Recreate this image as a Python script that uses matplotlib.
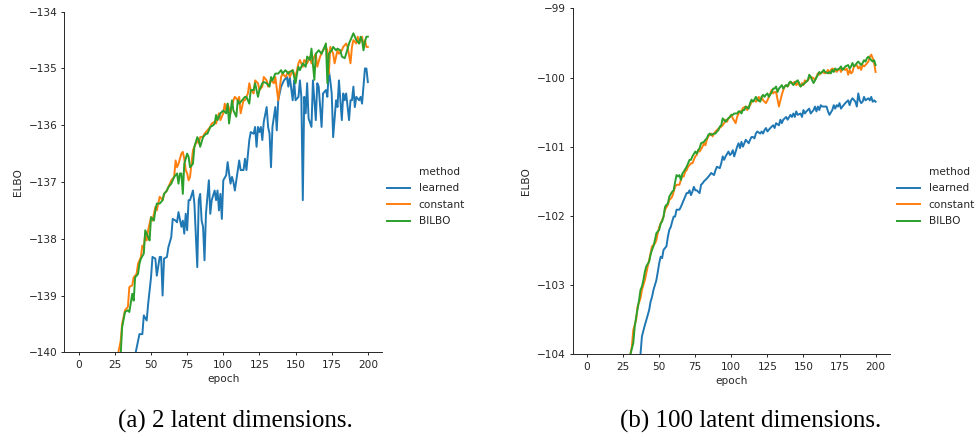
import matplotlib
matplotlib.use("Agg")
import matplotlib.pyplot as plt
from matplotlib.lines import Line2D

# ---------------- data: panel (a) 2 latent dimensions ----------------
a_learned_ep = [0, 10, 20, 30, 36, 39, 42, 44, 45, 47, 48, 49, 50, 51, 53, 54, 56, 57, 58, 59, 61, 62, 64, 65, 67, 68, 69, 71, 72, 73, 74, 75, 76, 77, 79, 80, 82, 83, 84, 85, 86, 87, 88, 90, 91, 92, 94, 95, 96, 97, 98, 99, 100, 102, 103, 104, 105, 106, 107, 108, 110, 111, 112, 114, 115, 116, 118, 119, 121, 122, 123, 124, 125, 126, 127, 128, 130, 131, 132, 133, 134, 136, 137, 138, 140, 142, 144, 145, 146, 148, 149, 150, 152, 153, 154, 155, 156, 157, 158, 159, 161, 162, 163, 164, 165, 166, 168, 169, 171, 172, 173, 174, 175, 176, 178, 179, 180, 181, 182, 183, 184, 185, 187, 188, 189, 190, 191, 192, 194, 195, 196, 197, 198, 199, 200]
a_learned = [-170, -155, -147, -142.5, -140.7, -140.05, -139.68, -139.68, -139.35, -139.44, -139.15, -138.91, -138.68, -138.32, -138.35, -138.65, -138.32, -138.32, -139.0, -138.35, -138.32, -138.15, -137.97, -137.65, -137.68, -137.71, -137.53, -137.79, -137.68, -137.91, -137.56, -137.85, -137.32, -137.32, -137.15, -137.38, -138.5, -137.32, -137.21, -137.68, -137.79, -138.38, -137.56, -136.97, -137.56, -137.32, -137.15, -137.32, -137.15, -137.5, -137.21, -137.65, -136.97, -136.88, -136.65, -136.85, -137.03, -136.91, -137.0, -137.15, -136.79, -136.62, -136.79, -136.79, -136.59, -136.79, -136.26, -136.12, -136.15, -136.03, -136.38, -136.03, -136.12, -136.03, -136.26, -135.94, -135.68, -136.03, -136.15, -136.74, -136.03, -135.68, -136.09, -135.56, -135.32, -135.21, -135.15, -135.32, -135.15, -135.56, -135.21, -135.56, -135.5, -135.21, -135.5, -137.32, -135.5, -135.79, -135.26, -135.88, -136.03, -135.21, -135.56, -135.91, -135.26, -135.32, -136.03, -135.44, -135.38, -135.5, -135.03, -135.21, -135.44, -136.21, -135.56, -135.68, -135.21, -135.56, -135.91, -135.44, -135.56, -135.44, -135.91, -135.56, -135.56, -135.32, -135.68, -135.5, -135.56, -135.5, -135.62, -135.32, -135.0, -135.0, -135.24]

a_constant_ep = [0, 10, 20, 25, 27, 29, 30, 32, 34, 35, 37, 38, 40, 41, 43, 44, 45, 46, 47, 48, 50, 51, 52, 53, 54, 56, 58, 59, 61, 62, 64, 66, 67, 68, 69, 71, 72, 73, 74, 75, 76, 77, 79, 80, 82, 83, 84, 86, 87, 89, 91, 92, 94, 95, 97, 98, 100, 101, 102, 103, 105, 107, 108, 110, 111, 112, 114, 115, 117, 118, 119, 121, 122, 124, 125, 127, 128, 130, 131, 133, 135, 136, 138, 140, 141, 143, 145, 146, 148, 150, 151, 152, 153, 155, 156, 158, 160, 161, 163, 164, 165, 167, 169, 171, 172, 173, 174, 176, 177, 179, 180, 182, 183, 185, 186, 188, 189, 190, 192, 193, 194, 196, 197, 198, 199, 200]
a_constant = [-170, -155, -145, -141.2, -140.05, -139.8, -139.5, -139.26, -139.2, -138.85, -138.82, -138.68, -138.62, -138.44, -138.32, -138.12, -138.15, -137.91, -138.03, -137.85, -137.62, -137.68, -137.56, -137.44, -137.5, -137.26, -137.32, -137.21, -137.15, -137.09, -136.97, -136.91, -136.62, -136.74, -136.68, -136.5, -136.47, -136.59, -136.79, -136.85, -136.97, -136.91, -136.44, -136.38, -136.26, -136.32, -136.21, -136.2, -136.15, -136.09, -136.03, -135.97, -135.94, -135.97, -135.79, -135.91, -135.79, -135.62, -135.74, -135.62, -135.79, -135.56, -135.5, -135.56, -135.5, -135.79, -135.56, -135.56, -135.44, -135.26, -135.38, -135.44, -135.21, -135.26, -135.38, -135.32, -135.15, -135.21, -135.32, -135.21, -135.26, -135.15, -135.56, -135.15, -135.09, -135.15, -135.06, -135.15, -135.03, -135.15, -135.03, -134.91, -134.85, -134.97, -134.85, -134.91, -134.79, -134.91, -134.79, -134.74, -134.97, -134.79, -134.68, -134.62, -134.68, -135.1, -134.62, -134.74, -134.91, -134.68, -134.74, -134.68, -134.62, -134.56, -134.62, -134.91, -134.62, -134.5, -134.56, -134.44, -134.56, -134.44, -134.62, -134.5, -134.62, -134.62]

a_bilbo_ep = [0, 10, 20, 26, 29, 30, 32, 34, 35, 37, 38, 39, 41, 42, 43, 45, 46, 48, 49, 50, 52, 53, 54, 56, 58, 59, 61, 62, 64, 65, 66, 68, 69, 70, 71, 72, 73, 75, 76, 77, 79, 80, 82, 83, 84, 86, 88, 89, 91, 93, 94, 95, 96, 98, 100, 102, 103, 104, 106, 107, 109, 110, 111, 113, 115, 116, 118, 119, 121, 122, 124, 125, 127, 128, 130, 132, 133, 134, 136, 138, 140, 141, 143, 145, 146, 148, 150, 151, 152, 153, 155, 157, 158, 160, 161, 163, 164, 166, 168, 169, 171, 172, 173, 175, 176, 178, 179, 181, 182, 184, 185, 187, 188, 190, 191, 192, 194, 195, 196, 197, 198, 199, 200]
a_bilbo = [-172, -156, -146, -141.3, -140.05, -139.56, -139.29, -139.26, -139.29, -138.97, -139.09, -138.68, -138.62, -138.44, -138.35, -138.26, -137.85, -137.97, -138.03, -137.62, -137.68, -137.5, -137.38, -137.38, -137.32, -137.21, -137.15, -137.09, -137.03, -136.97, -136.91, -136.85, -137.03, -136.85, -136.85, -137.21, -136.68, -136.5, -136.56, -136.74, -136.68, -136.38, -136.21, -136.26, -136.38, -136.21, -136.15, -136.15, -136.03, -136.0, -135.97, -135.82, -135.91, -135.79, -135.74, -135.79, -135.62, -135.97, -135.56, -135.74, -135.85, -135.56, -135.62, -135.56, -135.5, -135.5, -135.62, -135.38, -135.38, -135.26, -135.5, -135.38, -135.26, -135.24, -135.26, -135.32, -135.15, -135.21, -135.09, -135.09, -135.03, -135.09, -135.03, -135.09, -135.06, -135.03, -135.26, -135.09, -134.97, -135.03, -134.91, -134.97, -134.79, -134.85, -134.65, -135.2, -134.74, -134.68, -134.74, -134.68, -134.56, -135.26, -134.74, -134.68, -134.62, -134.68, -134.65, -134.68, -134.79, -134.82, -134.74, -134.56, -134.5, -134.38, -134.44, -134.5, -134.56, -134.44, -134.5, -134.68, -134.53, -134.44, -134.44]

# ---------------- data: panel (b) 100 latent dimensions ----------------
b_learned_ep = [0, 10, 20, 30, 35, 37, 38, 40, 41, 43, 44, 45, 46, 48, 49, 50, 51, 52, 53, 55, 56, 57, 58, 59, 60, 61, 62, 64, 65, 67, 69, 70, 71, 72, 73, 74, 75, 76, 78, 79, 80, 81, 82, 83, 85, 86, 88, 89, 90, 92, 93, 94, 95, 96, 98, 99, 100, 101, 102, 104, 105, 106, 107, 108, 109, 110, 112, 113, 114, 115, 116, 117, 118, 120, 121, 122, 123, 124, 125, 127, 128, 129, 130, 131, 133, 134, 135, 136, 137, 138, 139, 141, 142, 143, 144, 145, 146, 148, 149, 150, 151, 152, 153, 154, 155, 157, 158, 159, 160, 161, 162, 163, 165, 166, 167, 168, 170, 171, 172, 173, 174, 175, 176, 177, 179, 180, 181, 182, 183, 184, 186, 187, 188, 189, 190, 191, 192, 193, 195, 196, 197, 198, 199, 200]
b_learned = [-125, -115, -109, -105.5, -104.3, -104.0, -103.74, -103.58, -103.51, -103.36, -103.24, -103.17, -103.07, -102.93, -102.81, -102.68, -102.59, -102.61, -102.49, -102.44, -102.3, -102.2, -102.16, -102.08, -102.01, -102.01, -101.91, -101.91, -101.87, -101.77, -101.67, -101.67, -101.63, -101.7, -101.65, -101.58, -101.63, -101.63, -101.67, -101.55, -101.53, -101.5, -101.48, -101.46, -101.41, -101.38, -101.41, -101.34, -101.29, -101.31, -101.24, -101.14, -101.19, -101.14, -101.07, -101.12, -101.1, -101.05, -101.14, -101.0, -100.95, -101.02, -100.93, -101.0, -100.95, -100.9, -100.95, -100.9, -100.86, -100.86, -100.88, -100.81, -100.78, -100.81, -100.78, -100.81, -100.76, -100.73, -100.78, -100.73, -100.71, -100.69, -100.73, -100.66, -100.69, -100.61, -100.66, -100.61, -100.59, -100.57, -100.61, -100.54, -100.57, -100.52, -100.57, -100.49, -100.54, -100.52, -100.57, -100.47, -100.52, -100.49, -100.47, -100.45, -100.52, -100.47, -100.42, -100.49, -100.42, -100.47, -100.4, -100.42, -100.42, -100.42, -100.49, -100.54, -100.47, -100.4, -100.45, -100.4, -100.42, -100.37, -100.45, -100.42, -100.37, -100.35, -100.33, -100.4, -100.33, -100.3, -100.35, -100.42, -100.23, -100.33, -100.37, -100.35, -100.28, -100.33, -100.3, -100.33, -100.28, -100.35, -100.33, -100.35]

b_constant_ep = [0, 10, 20, 27, 30, 31, 32, 34, 35, 37, 38, 40, 41, 42, 43, 44, 45, 47, 48, 49, 50, 51, 52, 53, 54, 56, 57, 58, 59, 60, 61, 62, 64, 65, 66, 67, 68, 69, 70, 72, 73, 74, 75, 76, 77, 78, 80, 81, 82, 83, 84, 86, 87, 88, 89, 90, 91, 93, 94, 95, 96, 97, 98, 99, 100, 101, 103, 104, 105, 106, 107, 108, 110, 111, 112, 113, 114, 116, 117, 118, 119, 120, 121, 122, 124, 125, 126, 127, 128, 129, 130, 131, 133, 134, 135, 136, 137, 138, 139, 141, 142, 143, 144, 145, 146, 148, 149, 150, 151, 152, 153, 154, 155, 157, 158, 159, 160, 161, 162, 163, 165, 166, 167, 168, 169, 170, 172, 173, 174, 175, 176, 177, 179, 180, 181, 182, 183, 184, 185, 187, 188, 189, 190, 191, 192, 193, 195, 196, 197, 198, 199, 200]
b_constant = [-125, -113, -107.5, -104.8, -104.0, -103.89, -103.65, -103.5, -103.31, -103.19, -103.07, -102.93, -102.83, -102.73, -102.64, -102.54, -102.44, -102.4, -102.35, -102.25, -102.16, -102.11, -102.06, -102.01, -101.91, -101.84, -101.77, -101.75, -101.72, -101.65, -101.58, -101.55, -101.55, -101.48, -101.43, -101.43, -101.36, -101.34, -101.29, -101.24, -101.24, -101.19, -101.14, -101.12, -101.05, -101.07, -101.0, -100.95, -100.98, -100.9, -100.85, -100.81, -100.85, -100.81, -100.78, -100.76, -100.74, -100.71, -100.69, -100.66, -100.61, -100.64, -100.59, -100.57, -100.54, -100.59, -100.66, -100.57, -100.52, -100.49, -100.49, -100.44, -100.42, -100.47, -100.42, -100.4, -100.35, -100.33, -100.35, -100.33, -100.28, -100.33, -100.28, -100.33, -100.37, -100.33, -100.28, -100.23, -100.18, -100.23, -100.21, -100.21, -100.42, -100.33, -100.25, -100.18, -100.13, -100.11, -100.13, -100.06, -100.08, -100.08, -100.06, -100.11, -100.08, -100.13, -100.08, -100.11, -100.04, -100.06, -100.04, -100.01, -99.99, -100.01, -100.04, -99.99, -99.94, -99.96, -99.94, -99.92, -99.94, -99.92, -99.89, -99.94, -99.89, -99.87, -99.89, -99.92, -99.89, -99.87, -99.92, -99.87, -99.89, -99.87, -99.96, -99.89, -99.94, -99.92, -99.84, -99.82, -99.87, -99.84, -99.89, -99.82, -99.84, -99.82, -99.77, -99.7, -99.67, -99.72, -99.79, -99.92]

b_bilbo_ep = [0, 10, 20, 28, 30, 32, 33, 34, 36, 37, 38, 39, 40, 41, 43, 44, 45, 46, 47, 48, 50, 51, 52, 53, 54, 55, 56, 57, 59, 60, 61, 62, 63, 64, 65, 66, 67, 69, 70, 71, 72, 73, 75, 76, 77, 78, 79, 81, 82, 83, 84, 85, 86, 88, 89, 90, 91, 92, 93, 94, 96, 97, 98, 99, 100, 101, 102, 104, 105, 106, 107, 108, 109, 110, 112, 113, 114, 115, 116, 117, 118, 120, 121, 122, 123, 124, 125, 126, 128, 129, 130, 131, 132, 133, 135, 136, 137, 138, 139, 140, 141, 143, 144, 145, 146, 147, 148, 149, 151, 152, 153, 154, 155, 156, 157, 158, 160, 161, 162, 163, 164, 165, 167, 168, 169, 170, 171, 172, 173, 175, 176, 177, 178, 179, 181, 182, 183, 184, 185, 186, 187, 188, 190, 191, 192, 193, 194, 195, 197, 198, 199, 200]
b_bilbo = [-125, -113, -107.5, -104.6, -104.0, -103.84, -103.6, -103.46, -103.22, -103.07, -103.02, -102.93, -102.81, -102.73, -102.66, -102.56, -102.49, -102.44, -102.35, -102.25, -102.2, -102.11, -102.08, -102.01, -101.87, -101.84, -101.82, -101.72, -101.65, -101.63, -101.51, -101.41, -101.43, -101.41, -101.48, -101.39, -101.36, -101.29, -101.24, -101.19, -101.19, -101.14, -101.07, -101.1, -101.05, -101.02, -100.95, -100.93, -100.9, -100.88, -100.83, -100.81, -100.83, -100.81, -100.81, -100.78, -100.76, -100.71, -100.69, -100.59, -100.64, -100.61, -100.59, -100.57, -100.54, -100.54, -100.52, -100.52, -100.49, -100.49, -100.52, -100.47, -100.47, -100.42, -100.45, -100.37, -100.32, -100.35, -100.32, -100.28, -100.32, -100.35, -100.28, -100.25, -100.28, -100.25, -100.23, -100.28, -100.21, -100.16, -100.16, -100.13, -100.21, -100.16, -100.11, -100.16, -100.13, -100.11, -100.13, -100.08, -100.06, -100.11, -100.08, -100.06, -100.04, -100.08, -100.13, -100.11, -100.08, -100.06, -100.04, -99.96, -99.99, -100.04, -100.08, -100.04, -99.96, -99.92, -99.94, -99.92, -99.89, -99.92, -99.94, -99.92, -99.94, -99.89, -99.92, -99.87, -99.89, -99.87, -99.84, -99.89, -99.87, -99.84, -99.82, -99.87, -99.84, -99.79, -99.84, -99.82, -99.79, -99.77, -99.82, -99.79, -99.75, -99.77, -99.72, -99.7, -99.75, -99.77, -99.75, -99.82]

methods = ["learned", "constant", "BILBO"]
colors = ["#1f77b4", "#ff7f0e", "#2ca02c"]
x_ticks = [0, 25, 50, 75, 100, 125, 150, 175, 200]
a_yticks = [-140, -139, -138, -137, -136, -135, -134]
b_yticks = [-104, -103, -102, -101, -100, -99]
captions = ["(a) 2 latent dimensions.", "(b) 100 latent dimensions."]

FS = 7.6
text_col = "#262626"
plt.rcParams.update({
    "font.family": "DejaVu Sans",
    "font.size": FS,
    "text.color": text_col,
    "axes.labelcolor": text_col,
    "xtick.color": text_col,
    "ytick.color": text_col,
    "axes.edgecolor": text_col,
    "axes.linewidth": 0.7,
    "xtick.major.width": 0.7,
    "ytick.major.width": 0.7,
    "xtick.major.size": 2.5,
    "ytick.major.size": 2.5,
    "xtick.major.pad": 2.8,
    "ytick.major.pad": 2.5,
})

fig = plt.figure(figsize=(9.79, 4.38), dpi=100)
W, H = 979.0, 438.0

def add_axes(l, r, t, b):
    return fig.add_axes([l / W, 1 - b / H, (r - l) / W, (b - t) / H])

axA = add_axes(64.3, 382.3, 11.7, 352.3)
axB = add_axes(572.7, 890.0, 8.3, 354.3)

panels = [
    (axA, [(a_learned_ep, a_learned), (a_constant_ep, a_constant), (a_bilbo_ep, a_bilbo)], a_yticks, (-140, -134)),
    (axB, [(b_learned_ep, b_learned), (b_constant_ep, b_constant), (b_bilbo_ep, b_bilbo)], b_yticks, (-104, -99)),
]

for ax, series, yt, ylim in panels:
    for (ep, val), c, m in zip(series, colors, methods):
        ax.plot(ep, val, color=c, lw=1.4, label=m)
    ax.set_xlim(-10, 210)
    ax.set_ylim(*ylim)
    ax.set_xticks(x_ticks)
    ax.set_yticks(yt)
    ax.spines["top"].set_visible(False)
    ax.spines["right"].set_visible(False)
    ax.set_xlabel("epoch", labelpad=3)
    ax.set_ylabel("ELBO", labelpad=4)

# legends (seaborn-style with "method" as a blank-handle entry)
for xanchor in [377.5, 887.5]:
    handles = [Line2D([], [], color="none")] + [Line2D([], [], color=c, lw=1.4) for c in colors]
    labels = ["method"] + methods
    fig.legend(handles, labels, loc="center left",
               bbox_to_anchor=(xanchor / W, 1 - 196.5 / H),
               frameon=False, handlelength=2.2, handletextpad=0.8,
               labelspacing=0.62, fontsize=FS)

# captions
for xc, cap in zip([235 / W, 751 / W], captions):
    fig.text(xc, 1 - 421 / H, cap, ha="center", va="center",
             family="Liberation Serif", fontsize=18, color="black")

fig.savefig("out.png", dpi=100)
